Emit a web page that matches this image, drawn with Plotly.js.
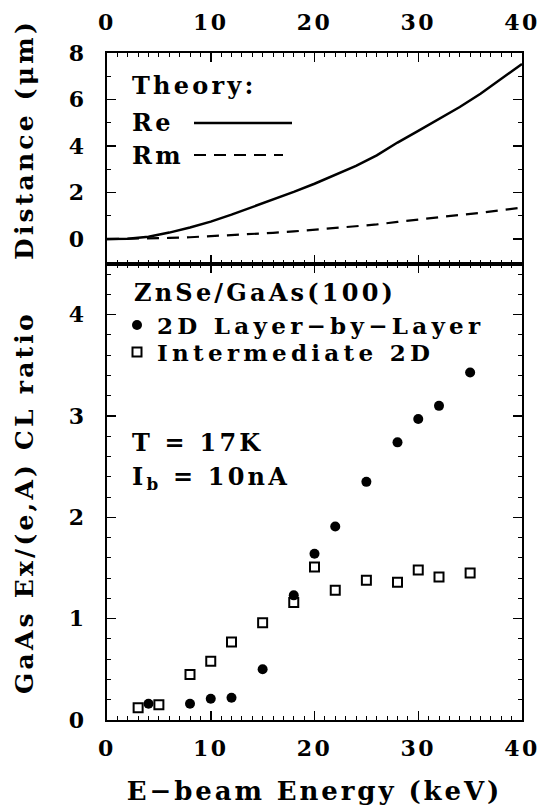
<!DOCTYPE html>
<html>
<head>
<meta charset="utf-8">
<script src="https://cdn.plot.ly/plotly-3.0.1.min.js"></script>
<style>
  html, body { margin: 0; padding: 0; background: #fff; }
  #chart { width: 543px; height: 806px; }
  .annotation-text { letter-spacing: 3.2px; }
  .legendtext, [class*="legend"] text { letter-spacing: 4.3px; }
  .xtick text, .ytick text, .x2tick text, .y2tick text { letter-spacing: 2.5px; }
  .xtitle { letter-spacing: 2.9px; }
</style>
</head>
<body>
<div id="chart"></div>
<script>
// Theory curves (upper panel)
const theoryE  = [0, 2, 4, 6, 8, 10, 12, 14, 16, 18, 20, 22, 24, 26, 28, 30, 32, 34, 36, 38, 40];
const reDist   = [0, 0.02, 0.1, 0.28, 0.5, 0.75, 1.05, 1.37, 1.7, 2.03, 2.38, 2.75, 3.15, 3.6, 4.15, 4.65, 5.15, 5.68, 6.25, 6.88, 7.53];
const rmDist   = [0, 0.01, 0.02, 0.05, 0.08, 0.12, 0.17, 0.23, 0.27, 0.33, 0.4, 0.47, 0.55, 0.63, 0.74, 0.85, 0.95, 1.04, 1.13, 1.24, 1.36];

// Measured CL ratio (lower panel)
const lblE     = [4, 8, 10, 12, 15, 18, 20, 22, 25, 28, 30, 32, 35];
const lblRatio = [0.16, 0.16, 0.21, 0.22, 0.5, 1.23, 1.64, 1.91, 2.35, 2.74, 2.97, 3.10, 3.43];
const intE     = [3, 5, 8, 10, 12, 15, 18, 20, 22, 25, 28, 30, 32, 35];
const intRatio = [0.12, 0.15, 0.45, 0.58, 0.77, 0.96, 1.16, 1.51, 1.28, 1.38, 1.36, 1.48, 1.41, 1.45];

const xTickVals = [0, 10, 20, 30, 40];
const yTopTicks = [0, 2, 4, 6, 8];
const yBotTicks = [0, 1, 2, 3, 4];

const FONT = '"DejaVu Serif", serif';
const tickFont = {family: FONT, size: 22, color: '#000', weight: 'bold'};
const txtFont = {family: FONT, size: 24, color: '#000', weight: 'bold'};
const legFont = {family: FONT, size: 23, color: '#000', weight: 'bold'};

const traces = [
  {x: theoryE, y: reDist, xaxis: 'x2', yaxis: 'y2', mode: 'lines', name: 'Re',
   line: {color: '#000', width: 2.5}, showlegend: false},
  {x: theoryE, y: rmDist, xaxis: 'x2', yaxis: 'y2', mode: 'lines', name: 'Rm',
   line: {color: '#000', width: 2.2, dash: '12px,8px'}, showlegend: false},
  {x: lblE, y: lblRatio, xaxis: 'x', yaxis: 'y', mode: 'markers', name: '2D Layer\u2212by\u2212Layer',
   legend: 'legend', marker: {symbol: 'circle', size: 10, color: '#000'}},
  {x: intE, y: intRatio, xaxis: 'x', yaxis: 'y', mode: 'markers', name: 'Intermediate 2D',
   legend: 'legend2', marker: {symbol: 'square-open', size: 9, color: '#000', line: {width: 2, color: '#000'}}}
];

const split = 456 / 667;
const py = v => (720 - v) / 667;      // helper: pixel row -> paper fraction (for text placement)
const px = v => (v - 107) / 415;      // helper: pixel column -> paper fraction

const commonX = {
  range: [0, 40], tickvals: xTickVals, ticks: 'inside', ticklen: 9, tickwidth: 1.5, tickcolor: '#000',
  minor: {dtick: 1, ticks: 'inside', ticklen: 4, tickwidth: 1, tickcolor: '#000'},
  showline: true, linewidth: 2, linecolor: '#000', mirror: 'allticks', showgrid: false, zeroline: false,
  tickfont: tickFont
};
const commonY = {
  ticks: 'inside', ticklen: 9, tickwidth: 1.5, tickcolor: '#000',
  showline: true, linewidth: 2, linecolor: '#000', mirror: 'allticks', showgrid: false, zeroline: false,
  tickfont: tickFont
};
const legendBase = {xanchor: 'left', yanchor: 'middle', bgcolor: 'rgba(0,0,0,0)',
                    font: legFont, itemwidth: 30, borderwidth: 0,
                    orientation: 'h', entrywidthmode: 'pixels', entrywidth: 340};

const layout = {
  width: 543, height: 806,
  margin: {l: 107, r: 21, t: 53, b: 86},
  paper_bgcolor: '#fff', plot_bgcolor: '#fff',
  showlegend: true,
  legend: Object.assign({}, legendBase, {x: px(117), y: py(325)}),
  legend2: Object.assign({}, legendBase, {x: px(117), y: py(352)}),
  xaxis: Object.assign({}, commonX, {anchor: 'y', domain: [0, 1], ticklabelstandoff: 8,
    title: {text: 'E\u2212beam Energy (keV)', font: {family: FONT, size: 26, color: '#000', weight: 'bold'}, standoff: 22}}),
  xaxis2: Object.assign({}, commonX, {anchor: 'y2', domain: [0, 1], side: 'top', ticklabelstandoff: 12}),
  yaxis: Object.assign({}, commonY, {domain: [0, split], range: [0, 4.5], tickvals: yBotTicks,
    minor: {dtick: 0.2, ticks: 'inside', ticklen: 4, tickwidth: 1, tickcolor: '#000'}, ticklabelstandoff: 14}),
  yaxis2: Object.assign({}, commonY, {domain: [split, 1], range: [-1.07, 8], tickvals: yTopTicks,
    minor: {dtick: 1, tick0: 0, ticks: 'inside', ticklen: 4, tickwidth: 1, tickcolor: '#000'}, ticklabelstandoff: 14}),
  annotations: [
    {text: 'Distance (\u03bcm)', xref: 'paper', yref: 'paper', x: px(24), y: py(140), textangle: -90,
     xanchor: 'center', yanchor: 'middle', showarrow: false, font: {family: FONT, size: 25, color: '#000', weight: 'bold'}},
    {text: 'GaAs Ex/(e,A) CL ratio', xref: 'paper', yref: 'paper', x: px(24), y: py(503), textangle: -90,
     xanchor: 'center', yanchor: 'middle', showarrow: false, font: {family: FONT, size: 25, color: '#000', weight: 'bold'}},
    {text: 'Theory:', xref: 'paper', yref: 'paper', x: px(130), y: py(85), xanchor: 'left', yanchor: 'middle', showarrow: false, font: txtFont},
    {text: 'Re', xref: 'paper', yref: 'paper', x: px(130), y: py(123), xanchor: 'left', yanchor: 'middle', showarrow: false, font: txtFont},
    {text: 'Rm', xref: 'paper', yref: 'paper', x: px(130), y: py(155), xanchor: 'left', yanchor: 'middle', showarrow: false, font: txtFont},
    {text: 'ZnSe/GaAs(100)', xref: 'paper', yref: 'paper', x: px(132), y: py(292), xanchor: 'left', yanchor: 'middle', showarrow: false, font: txtFont},
    {text: 'T = 17K', xref: 'paper', yref: 'paper', x: px(130), y: py(442), xanchor: 'left', yanchor: 'middle', showarrow: false, font: txtFont},
    {text: 'I<sub>b</sub> = 10nA', xref: 'paper', yref: 'paper', x: px(130), y: py(478), xanchor: 'left', yanchor: 'middle', showarrow: false, font: txtFont}
  ],
  shapes: [
    {type: 'line', xref: 'paper', yref: 'paper', x0: px(194), x1: px(292), y0: py(123), y1: py(123), line: {color: '#000', width: 2.5}},
    {type: 'line', xref: 'paper', yref: 'paper', x0: px(194), x1: px(283), y0: py(155), y1: py(155), line: {color: '#000', width: 2.2, dash: '12px,8px'}}
  ]
};

Plotly.newPlot('chart', traces, layout, {displayModeBar: false, staticPlot: true});
</script>
</body>
</html>
